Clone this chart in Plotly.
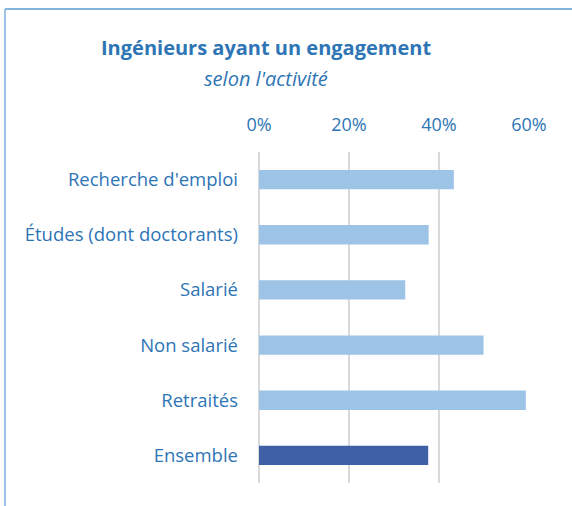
import plotly.graph_objects as go

# Share of engineers with an engagement, by activity (%)
categories = [
    "Recherche d'emploi",
    "Études (dont doctorants)",
    "Salarié",
    "Non salarié",
    "Retraités",
    "Ensemble",
]
values = [43.3, 37.7, 32.5, 49.9, 59.3, 37.6]
tick_values = [0, 20, 40, 60]
tick_labels = ["0%", "20%", "40%", "60%"]

LIGHT = "#9DC3E6"
DARK = "#3F5FA6"
TEXT = "#2E75B6"
GRID = "#D9D9D9"
FONT = "'Open Sans', Lato, sans-serif"

bar_colors = [DARK if c == "Ensemble" else LIGHT for c in categories]

fig = go.Figure(
    go.Bar(
        x=values,
        y=categories,
        orientation="h",
        marker=dict(color=bar_colors, line=dict(width=0)),
        hoverinfo="x+y",
    )
)

W, H = 572, 506
L, R, T, B = 259, 43, 152, 23
pw, ph = W - L - R, H - T - B


def px_x(p):
    return (p - L) / pw


def px_y(p):
    return (H - B - p) / ph


fig.update_layout(
    width=W,
    height=H,
    margin=dict(l=L, r=R, t=T, b=B),
    paper_bgcolor="white",
    plot_bgcolor="white",
    bargap=0.65,
    showlegend=False,
    font=dict(family=FONT, color=TEXT, size=18),
    xaxis=dict(
        side="top",
        range=[0, 60],
        tickvals=tick_values,
        ticktext=tick_labels,
        showgrid=True,
        gridcolor=GRID,
        gridwidth=1.5,
        zeroline=True,
        zerolinecolor=GRID,
        zerolinewidth=1.5,
        showline=False,
        ticks="",
        ticklabelstandoff=16,
        tickfont=dict(size=18, color=TEXT),
        fixedrange=True,
    ),
    yaxis=dict(
        autorange="reversed",
        showgrid=False,
        zeroline=False,
        showline=False,
        ticks="",
        ticklabelstandoff=20,
        tickfont=dict(size=18.5, color=TEXT),
        fixedrange=True,
    ),
    annotations=[
        dict(
            text="<b>Ingénieurs ayant un engagement</b>",
            x=px_x(266), y=px_y(47), xref="paper", yref="paper",
            xanchor="center", yanchor="middle", showarrow=False,
            font=dict(size=20, color=TEXT, family=FONT),
        ),
        dict(
            text="<i>selon l'activité</i>",
            x=px_x(266), y=px_y(78), xref="paper", yref="paper",
            xanchor="center", yanchor="middle", showarrow=False,
            font=dict(size=20, color=TEXT, family=FONT),
        ),
    ],
    shapes=[
        dict(type="line", xref="paper", yref="paper",
             x0=px_x(5), x1=px_x(572), y0=px_y(9), y1=px_y(9),
             line=dict(color="#5B9BD5", width=1.5)),
        dict(type="line", xref="paper", yref="paper",
             x0=px_x(5), x1=px_x(5), y0=px_y(9), y1=px_y(506),
             line=dict(color="#9DC3E6", width=2)),
    ],
)

fig.write_html("out.html")
